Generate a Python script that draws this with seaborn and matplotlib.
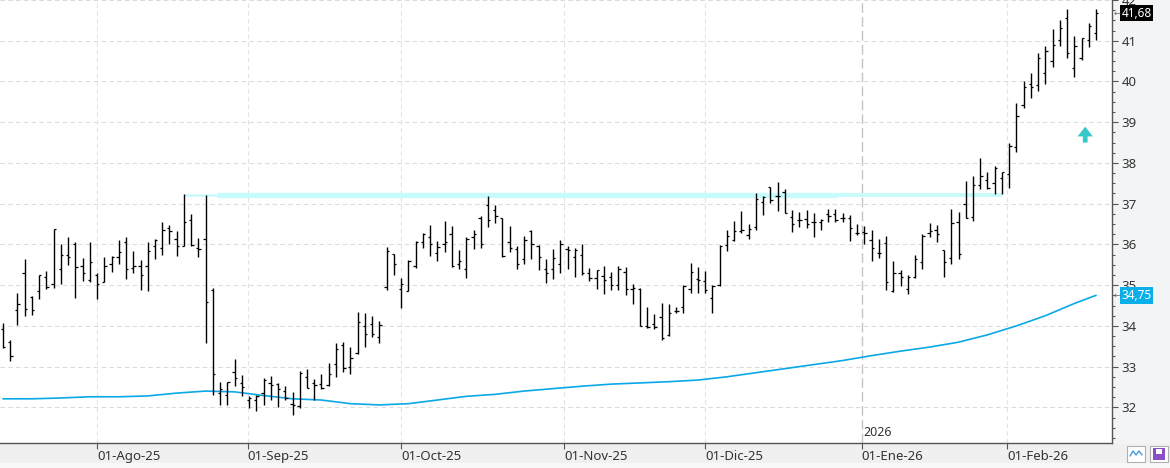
import matplotlib
matplotlib.use("Agg")
import matplotlib.pyplot as plt
import matplotlib.transforms as mtransforms
from matplotlib.patches import Rectangle
import seaborn as sns
import pandas as pd

# daily OHLC, one bar per session (mid Jul-25 .. 18 Feb-26)
opens = [33.92, 33.60, 34.38, 35.31, 34.72, 34.85, 35.19, 35.02, 35.39, 35.75,
         36.02, 35.48, 35.13, 35.24, 35.07, 35.53, 35.70, 36.05, 35.41, 35.47,
         35.46, 35.97, 35.92, 36.41, 36.14, 35.97, 36.61, 35.92, 36.14, 34.88,
         32.35, 32.31, 32.87, 32.60, 32.19, 32.17, 32.35, 32.60, 32.58, 32.41,
         32.09, 32.04, 32.75, 32.59, 32.57, 32.54, 33.07, 33.52, 33.00, 33.33,
         34.00, 34.04, 33.73, 34.95, 35.76, 34.91, 34.85, 35.48, 36.05, 36.18,
         35.79, 36.00, 36.25, 35.51, 35.39, 36.19, 36.65, 36.96, 36.84, 36.65,
         36.05, 35.88, 35.64, 36.32, 35.96, 35.39, 35.39, 35.53, 35.88, 35.70,
         35.73, 35.29, 35.17, 35.22, 35.19, 35.00, 35.32, 34.91, 34.91, 34.00,
         34.04, 34.23, 33.78, 34.37, 34.46, 34.90, 35.15, 35.11, 34.68, 35.00,
         35.98, 36.11, 36.33, 36.24, 36.43, 37.05, 37.41, 37.20, 37.29, 36.67,
         36.61, 36.62, 36.55, 36.55, 36.74, 36.74, 36.66, 36.65, 36.28, 36.30,
         36.10, 35.78, 36.03, 34.85, 35.29, 34.90, 35.21, 35.56, 36.27, 36.36,
         35.87, 35.66, 36.54, 36.98, 36.67, 37.46, 37.58, 37.50, 37.62, 37.74,
         38.38, 39.43, 39.93, 39.91, 40.22, 40.51, 41.02, 41.56, 40.34, 40.58,
         41.01, 41.20]
highs = [34.07, 33.66, 34.80, 35.64, 34.73, 35.26, 35.35, 36.39, 36.01, 36.17,
         36.05, 35.66, 36.05, 35.31, 35.69, 35.71, 36.10, 36.19, 35.83, 35.61,
         36.05, 36.13, 36.54, 36.47, 36.32, 37.24, 36.74, 36.15, 37.22, 34.92,
         32.63, 32.63, 33.19, 32.80, 32.29, 32.31, 32.73, 32.78, 32.61, 32.53,
         32.37, 32.89, 32.93, 32.70, 32.82, 33.10, 33.59, 33.61, 33.49, 34.34,
         34.32, 34.25, 34.12, 35.93, 35.76, 35.17, 35.61, 36.08, 36.28, 36.47,
         36.08, 36.57, 36.45, 35.86, 36.18, 36.35, 36.69, 37.20, 36.96, 36.66,
         36.45, 35.96, 36.21, 36.35, 35.98, 35.64, 35.88, 36.10, 35.96, 35.91,
         36.01, 35.41, 35.37, 35.48, 35.32, 35.47, 35.44, 35.03, 34.92, 34.46,
         34.30, 34.57, 34.54, 34.47, 35.00, 35.55, 35.45, 35.34, 35.00, 35.98,
         36.35, 36.57, 36.83, 36.49, 37.27, 37.18, 37.41, 37.54, 37.37, 36.84,
         36.80, 36.85, 36.77, 36.63, 36.86, 36.86, 36.76, 36.71, 36.51, 36.45,
         36.36, 36.14, 36.21, 35.60, 35.38, 35.24, 35.73, 36.25, 36.52, 36.47,
         35.87, 36.86, 36.80, 37.56, 37.68, 38.11, 37.78, 37.92, 37.77, 38.50,
         39.46, 40.00, 40.22, 40.71, 40.88, 41.29, 41.52, 41.79, 41.11, 41.07,
         41.44, 41.79]
lows = [33.45, 33.13, 34.03, 34.25, 34.27, 34.67, 34.91, 34.94, 35.04, 35.50,
        34.69, 35.11, 35.07, 34.67, 35.07, 35.32, 35.52, 35.16, 35.30, 34.89,
        34.86, 35.65, 35.74, 36.01, 35.72, 35.97, 35.97, 35.70, 33.59, 32.30,
        32.05, 32.05, 32.52, 32.29, 31.98, 31.91, 32.05, 32.18, 32.00, 32.19,
        31.81, 31.98, 32.47, 32.19, 32.44, 32.52, 32.74, 32.87, 32.83, 33.31,
        33.47, 33.72, 33.59, 34.88, 35.26, 34.45, 34.85, 35.41, 35.92, 35.72,
        35.60, 35.82, 35.44, 35.40, 35.18, 35.89, 35.92, 36.43, 36.53, 35.70,
        35.82, 35.40, 35.52, 35.64, 35.38, 35.06, 35.16, 35.30, 35.40, 35.21,
        35.24, 35.11, 34.91, 34.79, 34.89, 34.88, 34.75, 34.53, 34.00, 33.94,
        33.92, 33.65, 33.76, 34.31, 34.32, 34.81, 34.80, 34.80, 34.32, 34.98,
        35.85, 36.09, 36.29, 36.14, 36.35, 36.73, 37.02, 36.82, 36.77, 36.31,
        36.43, 36.41, 36.19, 36.36, 36.55, 36.55, 36.54, 36.09, 36.23, 36.00,
        35.60, 35.67, 34.87, 34.83, 34.97, 34.79, 35.17, 35.39, 36.18, 36.05,
        35.21, 35.51, 35.63, 36.64, 36.58, 37.35, 37.35, 37.23, 37.23, 37.39,
        38.26, 39.35, 39.60, 39.77, 39.95, 40.36, 40.86, 40.58, 40.11, 40.53,
        40.84, 41.02]
closes = [33.47, 33.26, 34.53, 34.42, 34.38, 35.25, 34.96, 36.37, 35.75, 35.70,
          35.44, 35.29, 35.57, 35.02, 35.46, 35.70, 35.81, 35.39, 35.46, 35.26,
          35.83, 36.10, 36.36, 36.33, 35.97, 36.54, 35.99, 35.88, 34.58, 32.82,
          32.45, 32.62, 32.73, 32.50, 32.22, 32.29, 32.68, 32.56, 32.45, 32.22,
          32.06, 32.85, 32.48, 32.54, 32.47, 32.81, 33.44, 32.97, 33.21, 34.09,
          33.81, 33.80, 34.02, 35.83, 35.51, 35.02, 35.60, 36.05, 36.25, 36.00,
          35.94, 36.05, 35.47, 35.59, 36.14, 36.25, 36.00, 36.61, 36.69, 35.71,
          35.92, 35.51, 36.12, 36.00, 35.68, 35.31, 35.66, 36.02, 35.86, 35.87,
          35.31, 35.17, 35.37, 35.12, 35.00, 35.39, 34.91, 34.92, 34.00, 33.98,
          33.97, 33.71, 34.31, 34.37, 34.98, 35.32, 35.12, 34.88, 34.98, 35.96,
          36.20, 36.32, 36.35, 36.37, 37.12, 37.16, 37.08, 37.20, 36.77, 36.51,
          36.61, 36.49, 36.55, 36.61, 36.70, 36.61, 36.66, 36.41, 36.27, 36.27,
          35.90, 35.78, 35.07, 35.31, 35.20, 35.21, 35.64, 36.21, 36.33, 36.26,
          35.56, 36.52, 35.76, 36.64, 37.47, 37.68, 37.39, 37.87, 37.77, 38.41,
          39.16, 39.87, 39.87, 40.58, 40.74, 40.90, 41.31, 40.71, 40.88, 41.07,
          41.37, 41.68]

# moving average read every 4 sessions
ma_bar = [0, 4, 8, 12, 16, 20, 24, 28, 32, 36, 40, 44, 48, 52, 56, 60, 64, 68,
          72, 76, 80, 84, 88, 92, 96, 100, 104, 108, 112, 116, 120, 124, 128,
          132, 136, 140, 144, 148, 151]
ma_val = [32.21, 32.21, 32.23, 32.26, 32.26, 32.28, 32.35, 32.40, 32.38, 32.29,
          32.21, 32.18, 32.09, 32.06, 32.09, 32.18, 32.27, 32.32, 32.40, 32.46,
          32.52, 32.57, 32.60, 32.63, 32.67, 32.75, 32.85, 32.95, 33.05, 33.15,
          33.27, 33.38, 33.48, 33.60, 33.78, 34.00, 34.25, 34.55, 34.75]

# resistance line
res_level = 37.21
res_from, res_to = 25, 138

month_pos = [13, 33.8, 55, 77.5, 97, 118.6, 138.7]
month_lab = ["01-Ago-25", "01-Sep-25", "01-Oct-25", "01-Nov-25",
             "01-Dic-25", "01-Ene-26", "01-Feb-26"]

sns.set_theme(style="white")
plt.rcParams["font.family"] = ["Noto Sans", "DejaVu Sans"]

df = pd.DataFrame({"o": opens, "h": highs, "l": lows, "c": closes})
df["i"] = range(len(df))

fig = plt.figure(figsize=(11.7, 4.68), dpi=100, facecolor="#f0f0f0")
fig.patches.append(Rectangle((1112 / 1170, 25 / 468), 58 / 1170, 443 / 468,
                             transform=fig.transFigure, color="#f3f4f6", zorder=-5))
fig.patches.append(Rectangle((0, 0), 1, 5 / 468, transform=fig.transFigure,
                             color="#f8f8f8", zorder=-5))
ax = fig.add_axes([0, 25 / 468, 1112 / 1170, 443 / 468])
ax.set_facecolor("white")

ax.set_xlim(-0.41, 153.2)
ax.set_ylim(31.125, 42.0)

# grid
ax.set_yticks(range(32, 43))
ax.set_yticks([v / 4 for v in range(125, 169)], minor=True)
ax.grid(axis="y", which="major", color="#dcdcdc", lw=0.8, ls=(0, (4, 3)))
for k, p in enumerate(month_pos):
    if month_lab[k].startswith("01-Ene"):
        ax.axvline(p, color="#c4c4c4", lw=1.0, ls=(0, (7, 3)), zorder=0.5)
    else:
        ax.axvline(p, color="#e2e2e2", lw=0.8, ls=(0, (4, 3)), zorder=0.5)

# resistance band
ax.hlines(res_level, res_from, res_from + 4.5, color="#c8fbfb", lw=1.8, zorder=1)
ax.hlines(res_level, res_from + 4.5, 115.2, color="#c8fbfb", lw=3.8, zorder=1)
ax.hlines(res_level, 115.2, res_to, color="#c8fbfb", lw=2.9, zorder=1)

# moving average
sns.lineplot(x=ma_bar, y=ma_val, ax=ax, color="#0aa8e6", lw=1.2, zorder=2)

# OHLC bars
ax.vlines(df["i"], df["l"], df["h"], color="black", lw=1.0, zorder=3)
ax.hlines(df["o"], df["i"] - 0.32, df["i"], color="black", lw=0.9, zorder=3)
ax.hlines(df["c"], df["i"], df["i"] + 0.32, color="black", lw=0.9, zorder=3)

# up arrow
ax.annotate("", xy=(149.5, 38.89), xytext=(149.5, 38.50),
            arrowprops=dict(facecolor="#36c8c8", edgecolor="none",
                            width=3.4, headwidth=11, headlength=7, shrink=0))

ax.text(month_pos[5] + 0.25, 31.22, "2026", ha="left", va="bottom",
        fontsize=9, color="#333333")

# axes styling
for s in ["left", "top"]:
    ax.spines[s].set_visible(False)
for s in ["right", "bottom"]:
    ax.spines[s].set_color("#555555")
    ax.spines[s].set_linewidth(1.0)
ax.yaxis.tick_right()
ax.tick_params(axis="y", which="major", direction="out", length=4, width=0.8,
               color="#555555", labelsize=9.5, labelcolor="#333333", pad=3,
               right=True, left=False, labelright=True, labelleft=False)
ax.tick_params(axis="y", which="minor", direction="out", length=2.5, width=0.8,
               color="#555555", right=True, left=False)
ax.set_yticklabels([str(v) for v in range(32, 43)])
ax.set_xticks(month_pos)
ax.set_xticklabels(month_lab)
for t in ax.get_xticklabels():
    t.set_ha("left")
ax.tick_params(axis="x", direction="out", length=4, width=0.8, color="#555555",
               labelsize=9.5, labelcolor="#333333", pad=1, bottom=True)
ax.set_xlabel("")
ax.set_ylabel("")

# last price tags
blend = mtransforms.blended_transform_factory(ax.transAxes, ax.transData)
ax.text(1.0085, closes[-1], f"{closes[-1]:.2f}".replace(".", ","), transform=blend,
        ha="left", va="center", fontsize=8.5, color="white", clip_on=False, zorder=6,
        bbox=dict(boxstyle="square,pad=0.15", fc="black", ec="none"))
ax.text(1.0085, ma_val[-1], f"{ma_val[-1]:.2f}".replace(".", ","), transform=blend,
        ha="left", va="center", fontsize=8.5, color="white", clip_on=False, zorder=6,
        bbox=dict(boxstyle="square,pad=0.15", fc="#0aaee8", ec="none"))
for v in [closes[-1], ma_val[-1]]:
    ax.text(1.0012, v, "←", transform=blend, ha="left", va="center",
            fontsize=6, color="#666666", clip_on=False, zorder=6)

# corner buttons
fig.patches.append(Rectangle((1127 / 1170, 6 / 468), 18 / 1170, 16 / 468,
                             transform=fig.transFigure, fc="white", ec="#b0b0b0", lw=0.8))
fig.patches.append(Rectangle((1150 / 1170, 6 / 468), 18 / 1170, 16 / 468,
                             transform=fig.transFigure, fc="white", ec="#b0b0b0", lw=0.8))
fig.patches.append(Rectangle((1153 / 1170, 8 / 468), 12 / 1170, 12 / 468,
                             transform=fig.transFigure, fc="#8a50c8", ec="none"))
fig.patches.append(Rectangle((1156 / 1170, 14 / 468), 6 / 1170, 5 / 468,
                             transform=fig.transFigure, fc="white", ec="none"))
fig.lines.append(plt.Line2D([1130 / 1170, 1133 / 1170, 1136 / 1170, 1139 / 1170, 1142 / 1170],
                            [12 / 468, 17 / 468, 13 / 468, 17 / 468, 13 / 468],
                            transform=fig.transFigure, color="#4a9ad8", lw=1.0))

fig.savefig("out.png", dpi=100, facecolor=fig.get_facecolor())
